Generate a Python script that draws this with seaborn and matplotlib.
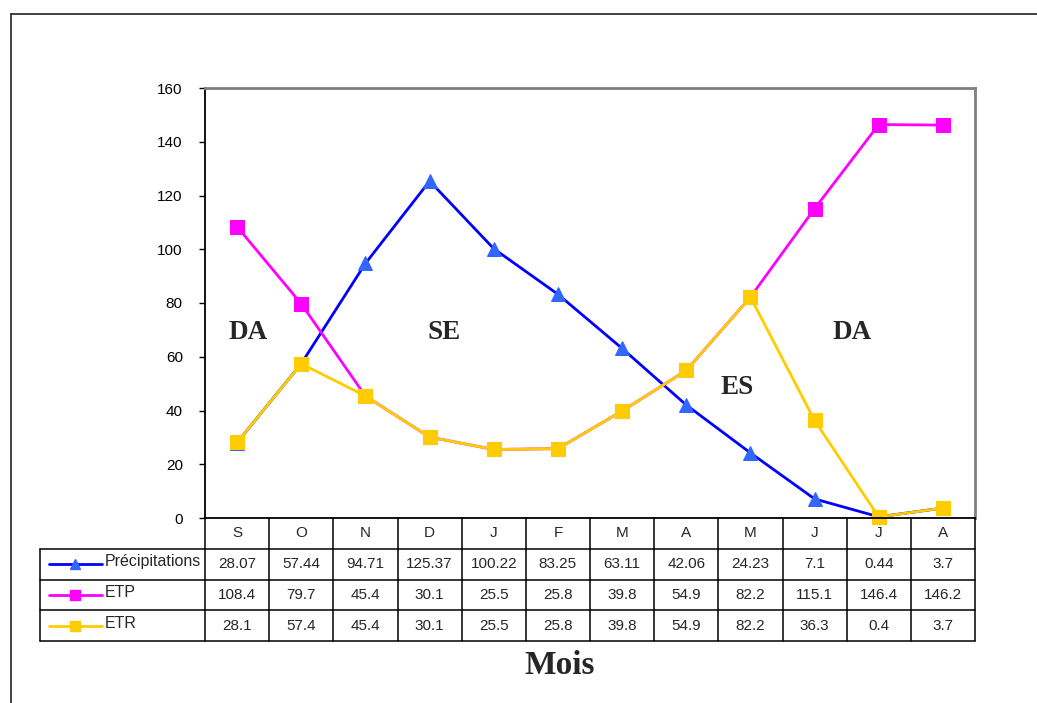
import numpy as np
import pandas as pd
import matplotlib
matplotlib.use('Agg')
import matplotlib.pyplot as plt
from matplotlib.lines import Line2D
import seaborn as sns

months = ['S', 'O', 'N', 'D', 'J', 'F', 'M', 'A', 'M', 'J', 'J', 'A']
precip = [28.07, 57.44, 94.71, 125.37, 100.22, 83.25, 63.11, 42.06, 24.23, 7.1, 0.44, 3.7]
etp = [108.4, 79.7, 45.4, 30.1, 25.5, 25.8, 39.8, 54.9, 82.2, 115.1, 146.4, 146.2]
etr = [28.1, 57.4, 45.4, 30.1, 25.5, 25.8, 39.8, 54.9, 82.2, 36.3, 0.4, 3.7]
precip_txt = ['28.07', '57.44', '94.71', '125.37', '100.22', '83.25', '63.11', '42.06',
              '24.23', '7.1', '0.44', '3.7']
series_names = ['Précipitations', 'ETP', 'ETR']
zones = ['DA', 'SE', 'ES', 'DA']
zone_x = [0.17, 3.22, 7.79, 9.58]
zone_y = [69, 69, 48.5, 69]

colors = {'Précipitations': '#0000ff', 'ETP': '#ff00ff', 'ETR': '#ffcc00'}
markers = {'Précipitations': '^', 'ETP': 's', 'ETR': 's'}
msizes = {'Précipitations': 9.5, 'ETP': 9.5, 'ETR': 9.5}
mfc = {'Précipitations': '#3366ff', 'ETP': '#ff00ff', 'ETR': '#ffcc00'}

sns.set_style('white')
plt.rcParams['font.family'] = ['Liberation Sans', 'DejaVu Sans']

W, H = 1037, 703
fig = plt.figure(figsize=(W / 100, H / 100), dpi=100)
ax = fig.add_axes([205 / W, 1 - 518 / H, 770 / W, 430 / H])

x = np.arange(len(months))
df = pd.DataFrame({'x': np.tile(x, 3),
                   'val': precip + etp + etr,
                   'serie': np.repeat(series_names, len(months))})
for name in series_names:
    sub = df[df['serie'] == name]
    sns.lineplot(data=sub, x='x', y='val', ax=ax, color=colors[name], linewidth=2,
                 marker=markers[name], markersize=msizes[name],
                 markerfacecolor=mfc[name], markeredgecolor=mfc[name],
                 legend=False, clip_on=False)

ax.set_xlim(-0.5, 11.5)
ax.set_ylim(0, 160)
ax.set_yticks(range(0, 161, 20))
ax.set_xticks([])
ax.set_xlabel('')
ax.set_ylabel('')
ax.tick_params(axis='y', direction='out', length=4, width=1, left=True,
               labelsize=11, pad=12, colors='black')
for s in ['left', 'bottom']:
    ax.spines[s].set_color('black')
    ax.spines[s].set_linewidth(1.3)
for s in ['top', 'right']:
    ax.spines[s].set_color('#808080')
    ax.spines[s].set_linewidth(2)

for t, zx, zy in zip(zones, zone_x, zone_y):
    ax.text(zx, zy, t, ha='center', va='center', fontsize=19.5, fontweight='bold',
            family='Liberation Serif')

# data table under the chart
colw = 770 / 12
leg_w = 165 / colw
xl = -0.5 - leg_w
tab = fig.add_axes([40 / W, 1 - 641 / H, 935 / W, 123 / H])
tab.set_xlim(xl, 11.5)
tab.set_ylim(4, 0)
tab.axis('off')

lw = 1.1
for xv in np.arange(-0.5, 12, 1):
    tab.plot([xv, xv], [0, 4], color='black', lw=lw, clip_on=False)
tab.plot([xl, xl], [1, 4], color='black', lw=lw, clip_on=False)
for yv in [1, 2, 3, 4]:
    tab.plot([xl, 11.5], [yv, yv], color='black', lw=lw, clip_on=False)

for i, m in enumerate(months):
    tab.text(i, 0.5, m, ha='center', va='center', fontsize=11)
rows = [precip_txt, [str(v) for v in etp], [str(v) for v in etr]]
for r, (name, vals) in enumerate(zip(series_names, rows)):
    yc = r + 1.5
    for i, v in enumerate(vals):
        tab.text(i, yc, v, ha='center', va='center', fontsize=11)
    tab.plot([xl + 9 / colw, xl + 62 / colw], [yc, yc], color=colors[name], lw=2,
             clip_on=False)
    tab.plot([xl + 35 / colw], [yc], marker=markers[name], color=mfc[name],
             markersize=6.5, clip_on=False)
    tab.text(xl + 65 / colw, yc - 0.08, name, ha='left', va='center', fontsize=11.5)

fig.text(560 / W, 1 - 665 / H, 'Mois', ha='center', va='center', fontsize=24,
         fontweight='bold', family='Liberation Serif')

# outer frame
fig.add_artist(Line2D([10.5 / W, 10.5 / W], [0, 1 - 13.5 / H], color='#333333', lw=1.3))
fig.add_artist(Line2D([10.5 / W, 1], [1 - 13.5 / H, 1 - 13.5 / H], color='#333333', lw=1.3))

fig.savefig('out.png', dpi=100)
